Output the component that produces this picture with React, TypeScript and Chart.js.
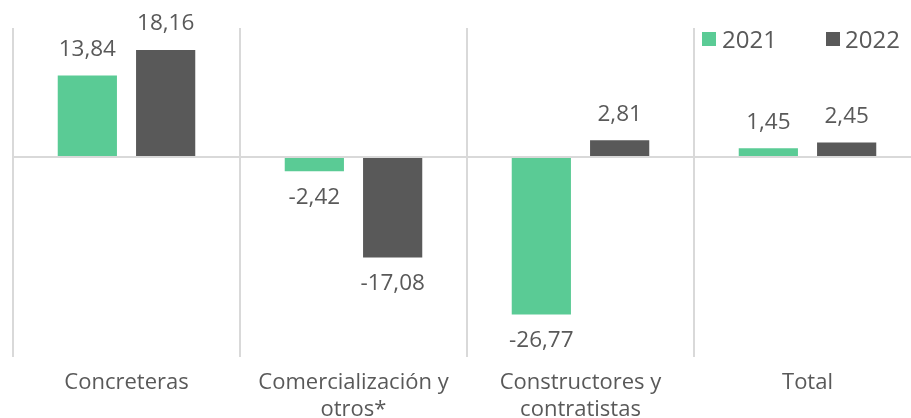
import React, { useEffect, useRef } from "react";
import { Chart, registerables } from "chart.js";

Chart.register(...registerables);

const categories: (string | string[])[] = [
  "Concreteras",
  ["Comercialización y", "otros*"],
  ["Constructores y", "contratistas"],
  "Total",
];
const seriesNames = ["2021", "2022"];
const values2021 = [13.84, -2.42, -26.77, 1.45];
const values2022 = [18.16, -17.08, 2.81, 2.45];
const colors = ["#5ACB95", "#595959"];

const FONT = "'Open Sans', sans-serif";
const TEXT = "#595959";

const dataLabelPlugin = {
  id: "dataLabels",
  afterDatasetsDraw(chart: any) {
    const ctx = chart.ctx;
    ctx.save();
    ctx.font = `22.5px ${FONT}`;
    ctx.fillStyle = TEXT;
    ctx.textAlign = "center";
    ctx.textBaseline = "middle";
    chart.data.datasets.forEach((ds: any, i: number) => {
      const meta = chart.getDatasetMeta(i);
      meta.data.forEach((el: any, j: number) => {
        const v = ds.data[j] as number;
        const txt = v.toFixed(2).replace(".", ",");
        const y = v >= 0 ? el.y - 26 : el.y + 26;
        ctx.fillText(txt, el.x, y);
      });
    });
    ctx.restore();
  },
};

export default function App() {
  const ref = useRef<HTMLCanvasElement | null>(null);
  useEffect(() => {
    if (!ref.current) return;
    const chart = new Chart(ref.current, {
      type: "bar",
      data: {
        labels: categories,
        datasets: [
          {
            label: seriesNames[0],
            data: values2021,
            backgroundColor: colors[0],
            barPercentage: 0.756,
            categoryPercentage: 0.69,
          },
          {
            label: seriesNames[1],
            data: values2022,
            backgroundColor: colors[1],
            barPercentage: 0.756,
            categoryPercentage: 0.69,
          },
        ],
      },
      options: {
        animation: false,
        responsive: false,
        maintainAspectRatio: false,
        layout: { padding: { left: 13, right: 9, top: 28, bottom: 0 } },
        plugins: { legend: { display: false }, tooltip: { enabled: false } },
        scales: {
          x: {
            offset: true,
            grid: {
              offset: true,
              color: "#D9D9D9",
              lineWidth: 2,
              drawTicks: false,
            },
            border: { display: false },
            ticks: {
              color: TEXT,
              font: { family: FONT, size: 22, lineHeight: 1.23 },
              padding: 12,
              maxRotation: 0,
              autoSkip: false,
            },
            afterFit: (s: any) => {
              s.height = 61;
            },
          },
          y: {
            min: -34,
            max: 21.9,
            ticks: { display: false },
            border: { display: false },
            grid: {
              drawTicks: false,
              lineWidth: 2,
              color: (c: any) => (c.tick && c.tick.value === 0 ? "#D9D9D9" : "rgba(0,0,0,0)"),
            },
            afterFit: (s: any) => {
              s.width = 0;
            },
            afterBuildTicks: (s: any) => {
              s.ticks = [{ value: 0 }];
            },
          },
        },
      },
      plugins: [dataLabelPlugin],
    });
    return () => chart.destroy();
  }, []);

  const legendItem = (i: number, boxLeft: number, textLeft: number) => (
    <React.Fragment key={i}>
      <div
        style={{
          position: "absolute",
          left: boxLeft,
          top: 32,
          width: 14,
          height: 14,
          background: colors[i],
        }}
      />
      <div
        style={{
          position: "absolute",
          left: textLeft,
          top: 24,
          height: 30,
          lineHeight: "30px",
          fontFamily: FONT,
          fontSize: 24,
          color: TEXT,
        }}
      >
        {seriesNames[i]}
      </div>
    </React.Fragment>
  );

  return (
    <div
      style={{
        position: "fixed",
        left: 0,
        top: 0,
        width: 911,
        height: 418,
        overflow: "hidden",
        background: "#fff",
      }}
    >
      <canvas ref={ref} width={930} height={418} style={{ display: "block" }} />
      {legendItem(0, 702, 722)}
      {legendItem(1, 826, 845)}
    </div>
  );
}
